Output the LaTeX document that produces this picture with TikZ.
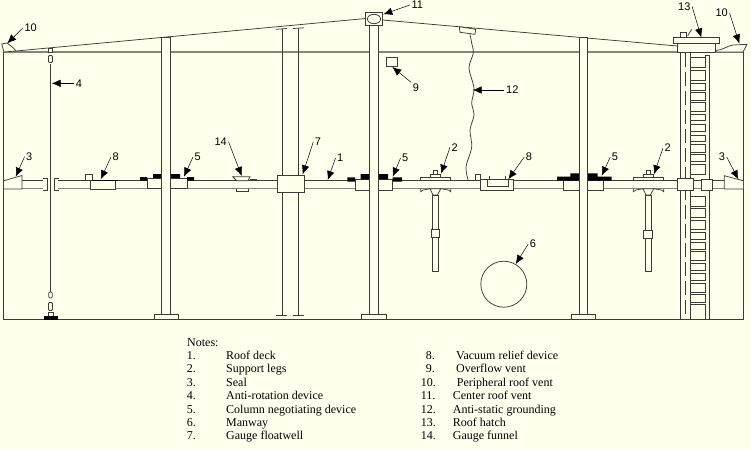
\documentclass[tikz,border=0pt]{standalone}
\usepackage{fontspec}
\setmainfont{Liberation Serif}
\newfontfamily\labelfont{Liberation Sans}
\usetikzlibrary{arrows.meta}
\definecolor{paper}{HTML}{FFFFEE}
\definecolor{ink}{HTML}{3C3C34}
\definecolor{shade}{HTML}{85857A}
\tikzset{
    part/.style={draw=ink,line width=0.75pt,fill=paper},
    wire/.style={draw=ink,line width=0.75pt},
    solid part/.style={fill=black},
    leader/.style={draw=black,line width=0.5pt,-{Latex[length=9pt,width=7.5pt]}},
    tag/.style={font=\labelfont\fontsize{11}{12}\selectfont,text=black,inner sep=1.5pt},
    note/.style={font=\fontsize{12}{13}\selectfont,text=black,inner sep=0pt,anchor=base west}
}
\begin{document}
\begin{tikzpicture}[x=1pt,y=-1pt]
        \useasboundingbox (0,0) rectangle (751,450);
        \fill[paper] (0,0) rectangle (751,450);

        % tank shell and roof
        \draw[draw=shade,line width=1.1pt] (4,52) -- (743,52);
        \draw[wire] (3.5,52) -- (3.5,319.5) -- (743,319.5) -- (743,52);
        \draw[wire] (16,51) -- (365.7,18.5);
        \draw[wire] (382.7,20) -- (677.3,46);

        % peripheral vents
        \draw[part] (1.7,44) -- (7,43) .. controls (11,46) and (14,48) .. (16,51) -- (4,52) -- cycle;
        \draw[part] (716,50.5) .. controls (723,50) and (728,45.5) .. (733,45) -- (747,44.3) -- (743,52) -- (716,52) -- cycle;

        % ladder and hatch
        \draw[part] (680.3,52) rectangle (690.3,319.5);
        \draw[wire,dash pattern=on 14pt off 5pt] (685.3,53) -- (685.3,319);
        \draw[wire] (705,55.5) -- (709.7,55.5) -- (709.7,319.5);
        \draw[wire] (705,55.5) -- (705,57.3);
        \draw[part] (690.3,57.3) rectangle (705,67) (690.3,70.3) rectangle (705,80.3)
            (690.3,83) rectangle (705,90.3) (690.3,92.7) rectangle (705,100)
            (690.3,102) rectangle (705,111) (690.3,114.3) rectangle (705,120.7)
            (690.3,124) rectangle (705,131.3) (690.3,135) rectangle (705,141.7)
            (690.3,144.7) rectangle (705,152) (690.3,154.7) rectangle (705,161.7)
            (690.3,164.5) rectangle (705,174)
            (690.3,196.7) rectangle (705,206) (690.3,208.7) rectangle (705,217.3)
            (690.3,220.7) rectangle (705,229.3) (690.3,232) rectangle (705,239.3)
            (690.3,242.3) rectangle (705,249.3) (690.3,251.7) rectangle (705,260.7)
            (690.3,263.3) rectangle (705,270.7) (690.3,273.3) rectangle (705,280.7)
            (690.3,283.3) rectangle (705,292) (690.3,294.7) rectangle (705,302)
            (690.3,304.7) rectangle (705,319.5);
        \draw[part] (677.3,43.7) rectangle (715.7,52);
        \draw[part] (673.3,37.7) rectangle (719.3,43.7);
        \draw[part] (680.7,32.7) rectangle (686.7,37.7);
        \draw[wire] (687.7,35.7) -- (691.7,29.3);

        % roof deck
        \draw[part,draw=none] (22,180.7) rectangle (43,188.7) (58,180.7) rectangle (724,188.7);
        \draw[wire] (22,180.7) -- (43,180.7) (58,180.7) -- (724,180.7);
        \draw[draw=shade,line width=1.1pt] (22,188.7) -- (43,188.7) (58,188.7) -- (724,188.7);
        \draw[wire,line width=1pt] (42.5,178) -- (47,178) -- (47,190) -- (42.5,190);
        \draw[wire,line width=1pt] (58.5,178) -- (54,178) -- (54,190) -- (58.5,190);

        % seals
        \draw[part] (4,180.7) -- (22,175.5) -- (22,189) -- (4,189);
        \draw[part] (743,180.7) -- (724.3,175.7) -- (724.3,189) -- (743,189);

        % anti-rotation cable
        \draw[wire] (50.5,64) -- (50.5,292);
        \draw[part] (48.7,48.3) rectangle (52.7,52.7);
        \draw[part,rounded corners=1pt] (48.5,55.5) rectangle (52.5,62.5);
        \draw[part,rounded corners=1pt] (48.8,292) rectangle (52.2,298);
        \draw[part,rounded corners=1pt] (48.5,302.5) rectangle (52.5,310.5);
        \draw[part] (48,312.5) rectangle (53,316);
        \fill[solid part] (43.5,316) rectangle (58,319.5);

        % vacuum relief, left
        \draw[part] (85,174) rectangle (92,180.7);
        \draw[part] (90.3,180.7) rectangle (115,189);
        \fill[solid part] (92,179.5) rectangle (118,181);

        % column boxes on the deck
        \draw[part] (147,178) rectangle (187,188.7);
        \draw[part] (355,179.3) rectangle (392.7,190);
        \draw[part] (563.7,180.7) rectangle (603.7,190.3);
        \fill[solid part] (140,177) rectangle (147,180.7) (153,174) rectangle (161.5,178)
            (170.5,174) rectangle (180,178) (187,177) rectangle (194,180.7);
        \fill[solid part] (347.3,177.3) rectangle (355,181.7) (360.7,174) rectangle (369.3,179.3)
            (378.3,174) rectangle (388,179.3) (392.7,177.3) rectangle (402,181.7);
        \fill[solid part] (557,176.7) rectangle (579.3,180.7) (570.3,173.3) rectangle (579.3,176.7)
            (587.7,176.7) rectangle (611.7,180.7) (587.7,173.3) rectangle (597.7,176.7);

        % gauge funnel
        \draw[part] (232.7,176.7) -- (250,176.7) -- (248,180.7) -- (236.7,180.7) -- cycle;
        \draw[wire] (250,179) -- (257,179);
        \draw[part] (236.7,188.7) -- (236.7,191) -- (248,191) -- (248,188.7);

        % gauge floatwell
        \draw[wire] (282.3,28.6) -- (282.3,315.7) (298.3,28) -- (298.3,315.7);
        \draw[wire] (276,29.3) -- (287,28.5) (293,28.5) -- (304,27.8);
        \draw[wire] (276,315.7) -- (287,315.7) (293,315.7) -- (304,315.7);
        \draw[part] (277.3,175.7) rectangle (304.3,192.3);

        % columns
        \draw[part] (161.5,37.5) rectangle (170.5,314);
        \draw[part] (154.3,314) rectangle (178.3,319.5);
        \draw[part] (369.3,25.7) rectangle (378.3,314);
        \draw[part] (361.7,314) rectangle (386,319.5);
        \draw[part] (579.3,37.7) rectangle (587.7,314);
        \draw[part] (571.3,314) rectangle (595.3,319.5);

        % center vent and overflow vent
        \draw[part] (365.7,12.3) rectangle (382.7,25.7);
        \draw[part] (374,19) ellipse (6.6pt and 4.7pt);
        \draw[part] (386.7,57) rectangle (397.7,66.7);

        % grounding
        \draw[part] (459.3,26.7) -- (475.7,29.3) -- (475,34.3) -- (460,32.3) -- cycle;
        \draw[wire] plot[smooth] coordinates {(470,34.3) (471.7,43) (473.3,53) (469,68) (474,88)
            (471.7,103) (474,115) (470,130) (471.7,147) (466,167) (468.3,180.7)};

        % support legs
        \draw[part] (420.7,177.3) rectangle (450.7,180.7);
        \draw[part] (430,174.3) rectangle (440,177.3);
        \draw[part] (433.3,170.7) rectangle (437.3,174.3);
        \draw[wire] (420.7,188.7) -- (420.7,191.7) -- (423,190) -- (430,188.7) (450.7,188.7) -- (450.7,191.7) -- (448.4,190) -- (440.7,188.7);
        \draw[part] (430,188.7) -- (440.7,188.7) -- (437.5,195) -- (433,195) -- cycle;
        \draw[part] (432.3,195) rectangle (438.3,271);
        \draw[part] (431,229.3) rectangle (439.3,237.7);
        \draw[part] (633.3,177.3) rectangle (663.7,180.7);
        \draw[part] (643.3,174.3) rectangle (653.3,177.3);
        \draw[part] (646.3,170.7) rectangle (650.3,174.3);
        \draw[wire] (633.3,188.7) -- (633.3,191.7) -- (636,190) -- (643,188.7) (663.7,188.7) -- (663.7,191.7) -- (661.4,190) -- (653.7,188.7);
        \draw[part] (643,188.7) -- (653.7,188.7) -- (650.5,195) -- (646,195) -- cycle;
        \draw[part] (645.3,195) rectangle (651,271.7);
        \draw[part] (643.7,230) rectangle (652.7,238.3);

        % vacuum relief, middle
        \draw[part] (475,174) rectangle (480.7,180.7);
        \draw[part] (480.7,179.5) rectangle (513.3,190.3);
        \draw[part] (487.3,180) -- (487.3,186) -- (508.3,186) -- (508.3,180);
        \draw[wire] (489,176) -- (489,180) (505,176) -- (505,180);

        % manway
        \draw[part] (503.8,284.2) circle (23pt);

        % ladder boxes on the deck
        \draw[part] (677.7,178.7) rectangle (693.7,190.3);
        \draw[part] (701.7,179.3) rectangle (712.7,190.3);

        % labels
        \node[tag] (vent) at (30.7,28) {10};
        \node[tag] (cable) at (79,83.3) {4};
        \node[tag] (sealleft) at (29.3,156.7) {3};
        \node[tag] (reliefleft) at (115.7,157) {8};
        \node[tag] (negleft) at (197.7,157) {5};
        \node[tag] (funnel) at (220.7,141.7) {14};
        \node[tag] (floatwell) at (318,142) {7};
        \node[tag] (deck) at (340.3,158) {1};
        \node[tag] (negmid) at (405.3,158) {5};
        \node[tag] (centervent) at (417.3,5) {11};
        \node[tag] (overflow) at (416,88) {9};
        \node[tag] (ground) at (512.3,90) {12};
        \node[tag] (legmid) at (454.7,147.3) {2};
        \node[tag] (reliefmid) at (529,157) {8};
        \node[tag] (negright) at (615,157) {5};
        \node[tag] (legright) at (667.7,148) {2};
        \node[tag] (sealright) at (722,157) {3};
        \node[tag] (hatch) at (684.3,6.5) {13};
        \node[tag] (ventright) at (721.7,13) {10};
        \node[tag] (manway) at (533,244) {6};

        \coordinate (venttip) at (7.3,43.3);
        \coordinate (cabletip) at (51.7,83.3);
        \coordinate (seallefttip) at (15.7,176.7);
        \coordinate (reliefleftip) at (100.7,179.3);
        \coordinate (neglefttip) at (184,176.7);
        \coordinate (funneltip) at (241.7,176);
        \coordinate (floatwelltip) at (302.7,174.3);
        \coordinate (decktip) at (327.7,180);
        \coordinate (negmidtip) at (392.7,176.7);
        \coordinate (centerventtip) at (383.3,14.3);
        \coordinate (overflowtip) at (392.3,67);
        \coordinate (groundtip) at (472.7,90);
        \coordinate (legmidtip) at (441,173.7);
        \coordinate (reliefmidtip) at (508.3,179.3);
        \coordinate (negrighttip) at (601.7,175.7);
        \coordinate (legrighttip) at (654,174.3);
        \coordinate (sealrighttip) at (738.3,179.3);
        \coordinate (hatchtip) at (701.3,37.5);
        \coordinate (ventrighttip) at (739.3,43.5);
        \coordinate (manwaytip) at (515.7,264);

        \path[every edge/.style={leader}]
            (vent.west) edge (venttip)
            (cable.west) edge (cabletip)
            (sealleft.west) edge (seallefttip)
            (reliefleft.west) edge (reliefleftip)
            (negleft.west) edge (neglefttip)
            (funnel.east) edge (funneltip)
            (floatwell.west) edge (floatwelltip)
            (deck.west) edge (decktip)
            (negmid.west) edge (negmidtip)
            (centervent.west) edge (centerventtip)
            (overflow.north west) edge (overflowtip)
            (ground.west) edge (groundtip)
            (legmid.west) edge (legmidtip)
            (reliefmid.west) edge (reliefmidtip)
            (negright.west) edge (negrighttip)
            (legright.west) edge (legrighttip)
            (sealright.east) edge (sealrighttip)
            (hatch.east) edge (hatchtip)
            (ventright.east) edge (ventrighttip)
            (manway.west) edge (manwaytip)
        ;

        % notes
        \node[note] (notes) at (187,346) {Notes:};

        \node[note] (numA) at (186.7,359.3) {1.};
        \node[note] (numB) at (186.7,372.7) {2.};
        \node[note] (numC) at (186.7,386) {3.};
        \node[note] (numD) at (186.7,399.5) {4.};
        \node[note] (numE) at (186.7,413) {5.};
        \node[note] (numF) at (186.7,426.4) {6.};
        \node[note] (numG) at (186.7,439.8) {7.};

        \node[note] (nameA) at (226,359.3) {Roof deck};
        \node[note] (nameB) at (226,372.7) {Support legs};
        \node[note] (nameC) at (226,386) {Seal};
        \node[note] (nameD) at (226,399.5) {Anti-rotation device};
        \node[note] (nameE) at (226,413) {Column negotiating device};
        \node[note] (nameF) at (226,426.4) {Manway};
        \node[note] (nameG) at (226,439.8) {Gauge floatwell};

        \node[note] (numH) at (425.7,359.3) {8.};
        \node[note] (numI) at (425.7,372.7) {9.};
        \node[note] (numJ) at (420.7,386) {10.};
        \node[note] (numK) at (420.7,399.5) {11.};
        \node[note] (numL) at (420.7,413) {12.};
        \node[note] (numM) at (420.7,426.4) {13.};
        \node[note] (numN) at (420.7,439.8) {14.};

        \node[note] (nameH) at (456,359.3) {Vacuum relief device};
        \node[note] (nameI) at (456,372.7) {Overflow vent};
        \node[note] (nameJ) at (456.7,386) {Peripheral roof vent};
        \node[note] (nameK) at (452.7,399.5) {Center roof vent};
        \node[note] (nameL) at (452.7,413) {Anti-static grounding};
        \node[note] (nameM) at (452.7,426.4) {Roof hatch};
        \node[note] (nameN) at (452.7,439.8) {Gauge funnel};
    \end{tikzpicture}
\end{document}
